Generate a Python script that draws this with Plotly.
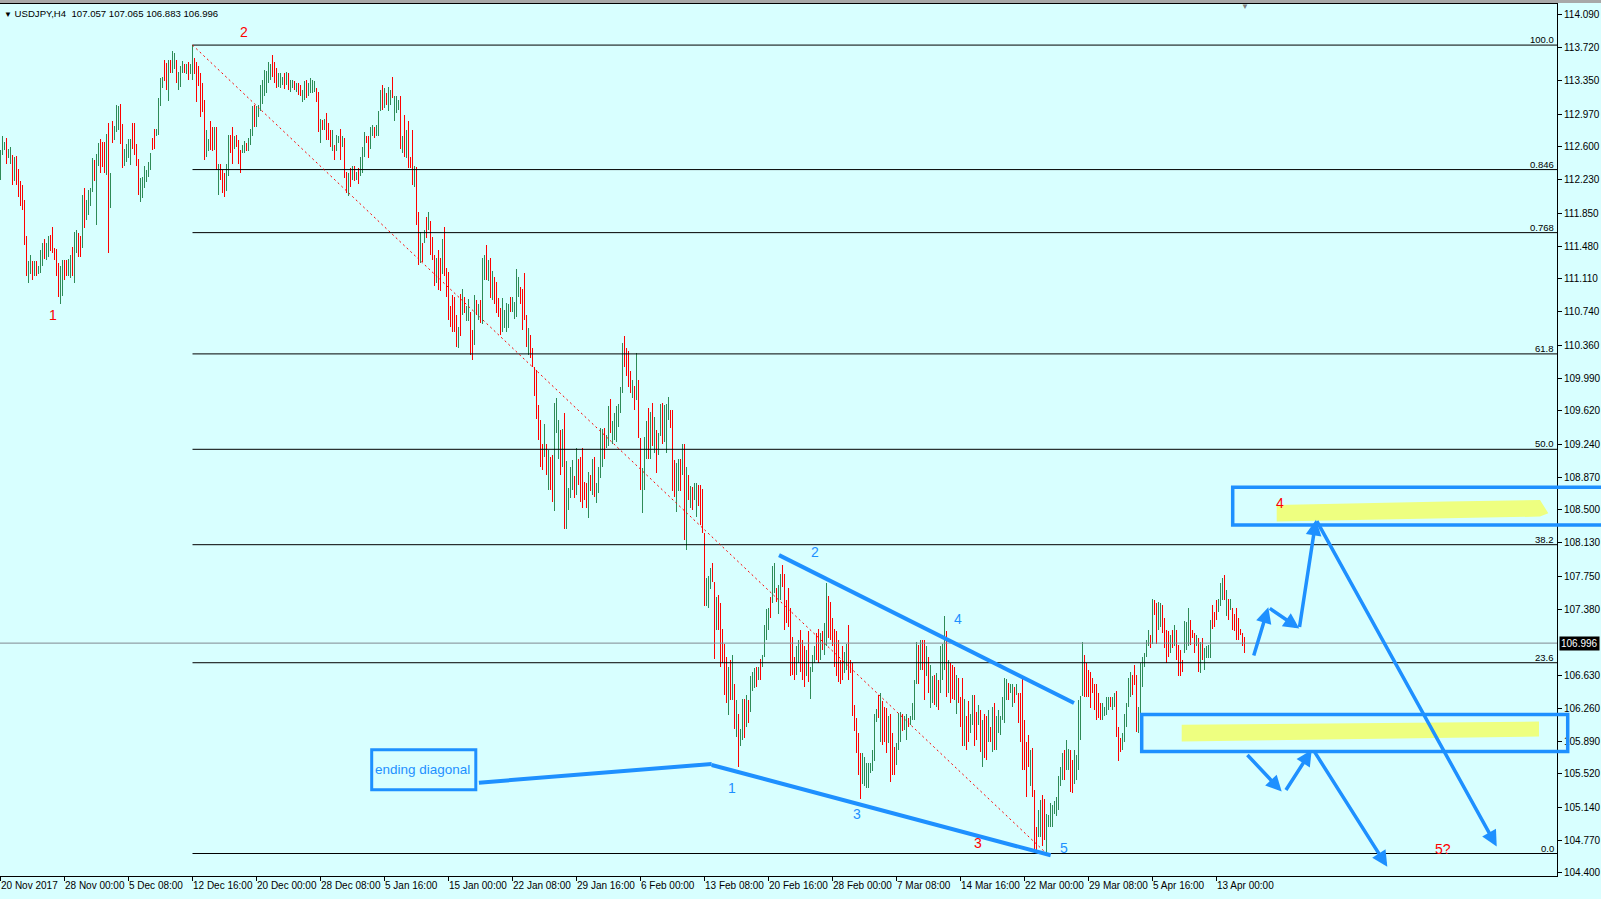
import plotly.graph_objects as go

# ---------------- data ----------------
bar_highs = [
    112.57, 112.72, 112.66, 112.70, 112.58, 112.60, 112.51, 112.49, 112.50, 112.35,
    112.21, 112.17, 112.00, 111.59, 111.31, 111.38, 111.31, 111.31, 111.31, 111.25,
    111.44, 111.51, 111.56, 111.51, 111.59, 111.61, 111.70, 111.46, 111.45, 111.29,
    111.26, 111.32, 111.32, 111.32, 111.33, 111.38, 111.47, 111.64, 111.66, 111.63,
    111.59, 112.06, 112.14, 112.00, 112.11, 112.14, 112.47, 112.45, 112.52, 112.64,
    112.69, 112.66, 112.66, 112.75, 112.87, 112.30, 112.89, 112.84, 113.07, 113.06,
    113.09, 112.86, 112.58, 112.63, 112.69, 112.69, 112.87, 112.87, 112.63, 112.46,
    112.25, 112.26, 112.38, 112.34, 112.43, 112.53, 112.70, 112.80, 112.80, 113.15,
    113.38, 113.39, 113.58, 113.55, 113.58, 113.58, 113.68, 113.66, 113.58, 113.45,
    113.51, 113.57, 113.54, 113.54, 113.56, 113.54, 113.75, 113.60, 113.56, 113.51,
    113.44, 113.32, 113.13, 112.79, 112.69, 112.89, 112.83, 112.83, 112.83, 112.41,
    112.41, 112.34, 112.30, 112.41, 112.74, 112.74, 112.82, 112.72, 112.74, 112.68,
    112.57, 112.62, 112.67, 112.64, 112.70, 112.80, 113.06, 113.07, 113.06, 113.07,
    113.30, 113.36, 113.47, 113.46, 113.56, 113.54, 113.64, 113.56, 113.49, 113.44,
    113.43, 113.39, 113.44, 113.45, 113.44, 113.36, 113.36, 113.34, 113.32, 113.32,
    113.30, 113.24, 113.34, 113.36, 113.32, 113.38, 113.36, 113.34, 113.26, 113.22,
    112.92, 112.90, 112.92, 112.98, 112.87, 112.79, 112.79, 112.62, 112.74, 112.72,
    112.80, 112.72, 112.70, 112.32, 112.30, 112.36, 112.38, 112.39, 112.32, 112.36,
    112.49, 112.60, 112.77, 112.72, 112.72, 112.83, 112.85, 112.83, 112.85, 113.00,
    113.24, 113.30, 113.27, 113.21, 113.28, 113.24, 113.39, 113.17, 113.17, 113.13,
    113.17, 112.72, 112.96, 112.79, 112.89, 112.49, 112.79, 112.38, 112.37, 111.87,
    111.64, 111.51, 111.66, 111.81, 111.87, 111.76, 111.58, 111.38, 111.35, 111.44,
    111.34, 111.56, 111.70, 111.23, 111.19, 110.80, 110.93, 110.91, 110.70, 110.57,
    110.94, 110.99, 110.91, 110.80, 110.88, 110.74, 110.53, 110.93, 110.87, 110.83,
    110.87, 111.35, 111.38, 111.49, 111.32, 111.35, 111.20, 111.13, 111.08, 110.89,
    110.78, 110.89, 110.76, 110.84, 110.83, 110.91, 110.91, 110.85, 111.22, 111.13,
    111.02, 111.00, 111.18, 110.70, 110.55, 110.48, 110.33, 110.12, 110.08, 109.68,
    109.52, 109.25, 109.47, 109.24, 109.18, 109.10, 109.12, 109.71, 109.76, 109.52,
    109.40, 109.41, 109.59, 109.05, 108.75, 108.99, 109.06, 108.88, 109.20, 109.08,
    109.10, 109.20, 108.82, 108.80, 108.93, 108.90, 109.08, 109.10, 108.80, 108.99,
    109.42, 109.41, 109.42, 109.35, 109.67, 109.75, 109.50, 109.59, 109.67, 109.70,
    109.89, 110.38, 110.46, 110.33, 110.29, 110.07, 109.97, 109.90, 110.27, 109.97,
    109.31, 108.97, 109.32, 109.50, 109.65, 109.61, 109.71, 109.55, 109.40, 109.37,
    109.70, 109.71, 109.69, 109.70, 109.78, 109.63, 109.63, 109.06, 109.03, 109.08,
    109.08, 109.25, 109.25, 108.99, 108.90, 108.77, 108.76, 108.80, 108.80, 108.78,
    108.78, 108.74, 108.24, 107.73, 107.75, 107.84, 107.90, 107.69, 107.52, 107.54,
    107.45, 107.16, 106.99, 106.84, 106.73, 106.81, 106.86, 106.54, 106.35, 106.20,
    106.03, 106.37, 106.37, 106.41, 106.35, 106.62, 106.67, 106.71, 106.73, 106.73,
    106.82, 106.86, 107.20, 107.38, 107.39, 107.52, 107.87, 107.90, 107.62, 107.65,
    107.78, 107.88, 107.78, 107.48, 107.62, 107.39, 107.07, 106.84, 106.96, 107.03,
    107.14, 107.03, 106.96, 106.92, 107.13, 106.73, 106.86, 106.96, 107.11, 107.15,
    107.11, 107.13, 107.22, 107.67, 107.53, 107.46, 107.28, 107.16, 107.13, 107.03,
    106.81, 106.96, 106.90, 106.99, 107.20, 106.81, 106.77, 106.30, 106.15, 105.98,
    105.75, 105.75, 105.71, 105.64, 105.64, 105.64, 105.79, 106.19, 106.25, 106.41,
    106.43, 106.34, 106.28, 106.26, 106.17, 106.19, 105.98, 105.82, 105.87, 106.21,
    106.22, 106.20, 106.17, 106.20, 106.15, 106.17, 106.32, 106.58, 107.01, 106.97,
    107.03, 107.03, 107.03, 106.96, 106.84, 106.75, 106.62, 106.64, 106.66, 106.58,
    106.96, 106.99, 107.30, 107.13, 106.81, 106.77, 106.75, 106.73, 106.64, 106.60,
    106.39, 106.60, 106.37, 106.17, 106.34, 106.19, 106.41, 106.41, 106.22, 106.30,
    106.24, 106.13, 106.20, 106.17, 106.24, 106.05, 106.28, 106.32, 106.17, 106.24,
    106.17, 106.39, 106.60, 106.59, 106.55, 106.54, 106.54, 106.50, 106.54, 106.43,
    106.43, 106.62, 106.13, 105.88, 105.96, 105.79, 105.81, 105.34, 104.92, 105.11,
    105.23, 105.28, 105.24, 105.07, 105.06, 105.19, 105.17, 105.21, 105.26, 105.49,
    105.60, 105.76, 105.79, 105.90, 105.80, 105.79, 105.68, 105.79, 105.73, 106.35,
    106.40, 107.01, 106.86, 106.77, 106.69, 106.67, 106.60, 106.54, 106.54, 106.43,
    106.32, 106.32, 106.28, 106.39, 106.39, 106.39, 106.39, 106.43, 106.45, 106.05,
    105.92, 105.98, 106.20, 106.32, 106.60, 106.67, 106.64, 106.75, 106.64, 106.28,
    106.77, 106.84, 106.88, 107.03, 107.14, 107.09, 107.49, 107.48, 107.45, 107.46,
    107.45, 107.43, 107.28, 107.14, 107.13, 107.09, 107.14, 107.20, 107.14, 106.98,
    106.92, 106.81, 107.25, 107.24, 107.39, 107.26, 107.14, 107.11, 107.09, 107.05,
    107.01, 107.05, 106.94, 106.96, 106.98, 107.26, 107.43, 107.35, 107.48, 107.49,
    107.67, 107.73, 107.77, 107.60, 107.50, 107.50, 107.39, 107.33, 107.39, 107.28,
    107.16, 107.11, 107.065,
]

bar_lows = [
    112.23, 112.51, 112.57, 112.41, 112.47, 112.41, 112.17, 112.21, 112.17, 112.04,
    111.93, 111.89, 111.49, 111.14, 111.06, 111.17, 111.10, 111.14, 111.14, 111.17,
    111.18, 111.25, 111.33, 111.32, 111.36, 111.42, 111.40, 111.32, 111.14, 110.90,
    110.83, 110.92, 111.10, 111.14, 111.14, 111.12, 111.14, 111.06, 111.40, 111.36,
    111.36, 111.46, 111.68, 111.77, 111.83, 111.93, 112.09, 112.22, 111.72, 112.38,
    112.31, 112.37, 112.31, 112.28, 111.40, 111.91, 112.64, 112.68, 112.77, 112.79,
    112.63, 112.36, 112.38, 112.43, 112.48, 112.40, 112.58, 112.51, 112.38, 112.06,
    111.98, 112.02, 112.14, 112.20, 112.26, 112.34, 112.57, 112.58, 112.72, 112.74,
    113.06, 113.26, 113.34, 113.24, 113.12, 113.44, 113.44, 113.48, 113.32, 113.24,
    113.28, 113.44, 113.44, 113.42, 113.36, 113.42, 113.36, 113.42, 113.11, 113.29,
    112.94, 112.99, 112.45, 112.49, 112.55, 112.57, 112.55, 112.57, 112.34, 112.06,
    112.23, 112.08, 112.03, 112.10, 112.27, 112.53, 112.41, 112.58, 112.60, 112.41,
    112.30, 112.53, 112.53, 112.55, 112.55, 112.62, 112.72, 112.83, 112.83, 112.94,
    113.00, 113.09, 113.17, 113.21, 113.32, 113.36, 113.39, 113.32, 113.26, 113.28,
    113.26, 113.30, 113.25, 113.30, 113.24, 113.22, 113.26, 113.24, 113.22, 113.19,
    113.17, 113.11, 113.13, 113.15, 113.17, 113.21, 113.21, 113.22, 113.11, 112.77,
    112.64, 112.79, 112.79, 112.68, 112.68, 112.60, 112.55, 112.45, 112.55, 112.64,
    112.45, 112.60, 112.25, 112.08, 112.05, 112.15, 112.23, 112.21, 112.23, 112.18,
    112.27, 112.30, 112.49, 112.64, 112.47, 112.58, 112.72, 112.70, 112.72, 112.72,
    113.00, 113.02, 113.04, 113.07, 113.00, 113.07, 113.15, 112.89, 112.98, 113.02,
    112.58, 112.53, 112.49, 112.47, 112.36, 112.36, 112.17, 112.15, 111.72, 111.27,
    111.29, 111.30, 111.51, 111.57, 111.66, 111.38, 111.32, 111.03, 111.06, 110.98,
    110.97, 111.17, 111.14, 110.91, 110.65, 110.57, 110.51, 110.51, 110.34, 110.33,
    110.47, 110.70, 110.72, 110.63, 110.63, 110.25, 110.19, 110.36, 110.70, 110.64,
    110.61, 110.60, 111.10, 111.10, 111.09, 110.89, 110.87, 110.83, 110.72, 110.68,
    110.48, 110.51, 110.55, 110.51, 110.55, 110.74, 110.74, 110.66, 110.68, 110.91,
    110.83, 110.53, 110.64, 110.34, 110.25, 110.22, 110.12, 109.79, 109.53, 109.29,
    108.99, 108.95, 109.10, 108.90, 108.73, 108.73, 108.59, 108.49, 109.37, 109.07,
    108.90, 108.99, 108.28, 108.28, 108.50, 108.63, 108.73, 108.63, 108.67, 108.78,
    108.59, 108.52, 108.61, 108.52, 108.41, 108.71, 108.67, 108.65, 108.58, 108.69,
    108.86, 108.99, 109.08, 109.20, 109.22, 109.37, 109.25, 109.29, 109.27, 109.44,
    109.59, 109.82, 110.12, 110.01, 109.89, 109.82, 109.76, 109.63, 109.74, 109.31,
    108.73, 108.46, 108.73, 109.08, 109.08, 109.08, 109.22, 109.14, 108.92, 109.12,
    109.33, 109.25, 109.27, 109.14, 109.52, 109.42, 108.71, 108.65, 108.48, 108.71,
    108.71, 108.89, 108.16, 108.05, 108.61, 108.52, 108.50, 108.61, 108.42, 108.54,
    108.33, 108.24, 107.41, 107.41, 107.39, 107.61, 107.69, 106.82, 107.14, 107.14,
    106.73, 106.77, 106.41, 106.32, 106.18, 106.35, 106.35, 106.03, 105.94, 105.60,
    105.83, 105.90, 105.92, 106.05, 106.09, 106.22, 106.45, 106.49, 106.50, 106.58,
    106.58, 106.73, 106.84, 107.03, 107.14, 107.28, 107.45, 107.56, 107.46, 107.33,
    107.48, 107.63, 107.14, 107.22, 107.18, 106.62, 106.64, 106.58, 106.64, 106.77,
    106.67, 106.58, 106.50, 106.62, 106.56, 106.37, 106.67, 106.77, 106.81, 106.77,
    106.81, 106.92, 106.86, 106.96, 107.05, 107.03, 106.96, 106.73, 106.62, 106.56,
    106.54, 106.58, 106.66, 106.69, 106.58, 106.66, 106.17, 106.00, 105.75, 105.51,
    105.24, 105.41, 105.38, 105.36, 105.36, 105.53, 105.55, 105.66, 106.11, 106.15,
    105.88, 105.85, 105.88, 105.75, 105.87, 105.43, 105.51, 105.51, 105.62, 105.79,
    105.88, 106.00, 106.02, 105.90, 106.05, 106.07, 106.13, 106.13, 106.54, 106.54,
    106.69, 106.69, 106.35, 106.62, 106.43, 106.26, 106.32, 106.30, 106.28, 106.24,
    106.43, 106.58, 106.69, 106.39, 106.43, 106.32, 106.37, 106.35, 106.20, 106.32,
    106.05, 105.83, 105.83, 105.79, 105.88, 105.98, 106.07, 105.83, 105.90, 106.07,
    105.77, 105.60, 105.70, 105.68, 105.88, 105.88, 105.77, 105.79, 105.79, 105.98,
    105.96, 106.13, 106.09, 106.35, 106.35, 106.43, 106.28, 106.32, 106.41, 106.09,
    105.88, 105.56, 105.56, 105.26, 105.60, 105.38, 105.26, 104.66, 104.64, 104.81,
    104.81, 104.70, 104.77, 104.62, 104.92, 104.92, 104.92, 105.07, 105.04, 105.11,
    105.38, 105.45, 105.45, 105.56, 105.56, 105.32, 105.30, 105.41, 105.45, 105.56,
    105.90, 106.40, 106.39, 106.39, 106.39, 106.26, 106.43, 106.24, 106.13, 106.15,
    106.13, 106.13, 106.17, 106.18, 106.24, 106.28, 106.24, 106.28, 105.94, 105.66,
    105.77, 105.79, 105.88, 106.05, 106.28, 106.39, 106.41, 106.52, 105.99, 105.98,
    106.00, 106.50, 106.73, 106.84, 106.96, 106.94, 106.99, 107.31, 106.99, 107.14,
    107.18, 107.11, 106.94, 106.77, 106.84, 106.88, 106.94, 106.96, 106.81, 106.62,
    106.62, 106.67, 106.88, 106.92, 106.96, 106.98, 107.05, 106.88, 106.96, 106.67,
    106.66, 106.81, 106.69, 106.83, 106.83, 106.83, 107.16, 107.18, 107.26, 107.35,
    107.41, 107.48, 107.48, 107.30, 107.26, 107.37, 107.14, 107.13, 107.03, 107.03,
    107.09, 106.96, 106.883,
]

# bar direction: G = bullish (green), R = bearish (red)
bar_dirs = (
    "GGGRGGRGRR" "RRRRGGRGRG" "GGRGGRRRRR" "GGRRGGRGGR" "RGRGGGGRGG"
    "RRRGRGRGGG" "RRGGGGRRRR" "GGGGGGRRGG" "GGRRGRGGRG" "GGRGRGGRRR"
    "RRRGGRRGRG" "RRRGGRRGRR" "RGGRGGGRGG" "GGGGGGRRRG" "GGRGRGGRGR"
    "RGGRGGGGRR" "GRGRRRGRGG" "RGRRGRGRGR" "GGGRRGGRGG" "GRGRGGRGGG"
    "RGRGRRRGRR" "GRGRGRRRGR" "RGRRRRRRRG" "RGRGGRRGRG" "RGGRGRGRRR"
    "RGGGGRGGGG" "RRRRGRRRRR" "RRGRGRRGGG" "RGRGGGGRGR" "RRRRGRGRGG"
    "GGRGGRGGGG" "GGRRRRGRGR" "RGGGRGRGRG" "GRGGGRRRGG" "RGRGRGRGGR"
    "RRRGGGRRGR" "RRRRGRGRGR" "GGRGRGGGRG" "RGGGGRGGRG" "GRRRRRRRGG"
    "RRRGRGGGRR" "GRGGRRRRRR" "RRGGRRRRRR" "RGGGGGGGGR" "GRRRGRRRGG"
    "GRGGRGGGGR" "GRRGRGGRGR" "GGGRGRRRGR" "RRGRRGGRRG" "RGRRGRGRGG"
    "GGGGRGGRGR" "RRRRRGRRRG" "GRRGGGGGGG" "GGRGGRRGGG" "GGRRRRRRRR"
    "RGGGGRGGRR" "RGGGGGRRRG" "GGGGGRGRRG" "GRRRRGRGRR" "RRGGGRRRGR"
    "GRGGGGRRRG" "GGRGRGRRRR" "RRR"
)

symbol = "USDJPY,H4"
last_open, last_high, last_low, last_close = 107.057, 107.065, 106.883, 106.996

date_labels = ["20 Nov 2017", "28 Nov 00:00", "5 Dec 08:00", "12 Dec 16:00", "20 Dec 00:00",
               "28 Dec 08:00", "5 Jan 16:00", "15 Jan 00:00", "22 Jan 08:00", "29 Jan 16:00",
               "6 Feb 00:00", "13 Feb 08:00", "20 Feb 16:00", "28 Feb 00:00", "7 Mar 08:00",
               "14 Mar 16:00", "22 Mar 00:00", "29 Mar 08:00", "5 Apr 16:00", "13 Apr 00:00"]
date_label_bars = [0, 32, 64, 96, 128, 160, 192, 224, 256, 288,
                   320, 352, 384, 416, 448, 480, 512, 544, 576, 608]

price_ticks = [114.090, 113.720, 113.350, 112.970, 112.600, 112.230, 111.850, 111.480,
               111.110, 110.740, 110.360, 109.990, 109.620, 109.240, 108.870, 108.500,
               108.130, 107.750, 107.380, 106.630, 106.260, 105.890, 105.520, 105.140,
               104.770, 104.400]

fib_ratios = [1.0, 0.846, 0.768, 0.618, 0.5, 0.382, 0.236, 0.0]
fib_texts = ["100.0", "0.846", "0.768", "61.8", "50.0", "38.2", "23.6", "0.0"]
fib_high, fib_low = 113.75, 104.62
fib_high_bar, fib_low_bar = 96, 523

# hand-drawn annotations (bar index, price)
wave_labels = [("2", 121.8, 113.90, "red"), ("1", 26.0, 110.70, "red"),
               ("2", 407.1, 108.03, "blue"), ("4", 478.6, 107.27, "blue"),
               ("1", 365.6, 105.36, "blue"), ("3", 428.0, 105.07, "blue"),
               ("5", 531.7, 104.68, "blue"), ("3", 488.8, 104.74, "red"),
               ("4", 639.8, 108.58, "red"), ("5?", 721.4, 104.67, "red")]
wedge_lines = [((389.25, 107.99), (536.75, 106.32)),
               ((355.6, 105.62), (525.1, 104.60)),
               ((239.2, 105.42), (355.6, 105.63))]
arrow_segments = [((626.4, 106.84), (633.9, 107.40)), ((633.9, 107.40), (649.4, 107.16)),
                  ((649.4, 107.16), (657.75, 108.39)), ((657.75, 108.39), (748.1, 104.70)),
                  ((622.75, 105.75), (640.6, 105.32)), ((642.25, 105.32), (655.6, 105.79)),
                  ((656.4, 105.79), (693.4, 104.47))]
upper_zone = (616.1, 805.0, 108.33, 108.755)
lower_zone = (570.6, 783.6, 105.773, 106.19)
upper_marker = [(638.1, 108.557), (723.1, 108.595), (769.75, 108.613), (773.9, 108.463),
                (769.75, 108.425), (723.1, 108.406), (638.1, 108.369)]
lower_marker = [(590.6, 106.073), (769.25, 106.110), (769.25, 105.941), (590.6, 105.884)]
diag_box = (185.6, 237.65, 105.341, 105.792)

# ---------------- figure ----------------
BG = "#D8FFFF"
BLUE = "#1E90FF"
GREEN = "#2E8B57"
FONT = "Liberation Sans, Arial, sans-serif"
W, H = 1601, 899
ML, MR, MT, MB = 0, 44, 4, 23
X0, X1 = -0.25, 778.25
Y0, Y1 = 104.366, 114.214
PLOT_H = H - MT - MB


def xpaper(i):
    return (i - X0) / (X1 - X0)


n = len(bar_highs)
xs = list(range(n))
opens = [bar_lows[k] if bar_dirs[k] == "G" else bar_highs[k] for k in range(n)]
closes = [bar_highs[k] if bar_dirs[k] == "G" else bar_lows[k] for k in range(n)]

fig = go.Figure(go.Ohlc(
    x=xs, open=opens, high=bar_highs, low=bar_lows, close=closes,
    increasing=dict(line=dict(color=GREEN, width=1)),
    decreasing=dict(line=dict(color="#FF0000", width=1)),
    tickwidth=0, hoverinfo="skip", showlegend=False,
))

shapes = []
annotations = []

# gray band above chart frame
shapes.append(dict(type="rect", xref="paper", yref="paper", x0=-0.01, x1=1.05,
                   y0=1 + 1.0 / PLOT_H, y1=1 + 5.0 / PLOT_H,
                   fillcolor="#A8A8A8", line=dict(width=0), layer="above"))

# current price line
shapes.append(dict(type="line", xref="x", yref="y", x0=X0, x1=X1, y0=last_close, y1=last_close,
                   line=dict(color="#808890", width=1)))

# fibonacci levels
for r, t in zip(fib_ratios, fib_texts):
    lvl = fib_low + r * (fib_high - fib_low)
    shapes.append(dict(type="line", xref="x", yref="y", x0=fib_high_bar, x1=X1, y0=lvl, y1=lvl,
                       line=dict(color="black", width=1)))
    annotations.append(dict(x=X1, y=lvl, xref="x", yref="y", text=t, showarrow=False,
                            xanchor="right", yanchor="bottom", xshift=-1, yshift=-2,
                            font=dict(family=FONT, size=9.5, color="black")))

# fib base (dotted red)
shapes.append(dict(type="line", xref="x", yref="y", x0=fib_high_bar, y0=fib_high,
                   x1=fib_low_bar, y1=fib_low, line=dict(color="red", width=1, dash="2px,3px")))

# yellow markers
def poly(points):
    return "M " + " L ".join(f"{a},{b}" for a, b in points) + " Z"

for pts in (upper_marker, lower_marker):
    shapes.append(dict(type="path", xref="x", yref="y", path=poly(pts),
                       fillcolor="#EEFF80", line=dict(width=0)))

# blue zones
for (a, b, lo, hi) in (upper_zone, lower_zone):
    shapes.append(dict(type="rect", xref="paper", yref="y", x0=xpaper(a), x1=xpaper(b),
                       y0=lo, y1=hi, line=dict(color=BLUE, width=3.5)))

# ending diagonal box + wedge lines
shapes.append(dict(type="rect", xref="x", yref="y", x0=diag_box[0], x1=diag_box[1],
                   y0=diag_box[2], y1=diag_box[3], line=dict(color=BLUE, width=3)))
for (p, q) in wedge_lines:
    shapes.append(dict(type="line", xref="x", yref="y", x0=p[0], y0=p[1], x1=q[0], y1=q[1],
                       line=dict(color=BLUE, width=4)))

annotations.append(dict(x=diag_box[0], y=(diag_box[2] + diag_box[3]) / 2, xref="x", yref="y",
                        text="ending diagonal", showarrow=False, xanchor="left", xshift=1,
                        font=dict(family=FONT, size=13.5, color=BLUE)))

# arrows
for (tail, head) in arrow_segments:
    annotations.append(dict(x=head[0], y=head[1], ax=tail[0], ay=tail[1],
                            xref="x", yref="y", axref="x", ayref="y", text="",
                            showarrow=True, arrowhead=2, arrowsize=0.9, arrowwidth=3.5,
                            arrowcolor=BLUE, standoff=0, startstandoff=0))

# wave labels
for t, i, p, c in wave_labels:
    annotations.append(dict(x=i, y=p, xref="x", yref="y", text=t, showarrow=False,
                            font=dict(family=FONT, size=14,
                                      color=BLUE if c == "blue" else "#FF0000")))

# date labels
for lab, b in zip(date_labels, date_label_bars):
    annotations.append(dict(x=b, y=0, xref="x", yref="paper", text=lab, showarrow=False,
                            xanchor="left", yanchor="top", xshift=-2, yshift=-2,
                            font=dict(family=FONT, size=10, color="black")))

# header
annotations.append(dict(x=0, y=1, xref="paper", yref="paper",
                        text=f"<span style='font-size:8px'>▼</span> {symbol}  {last_open:.3f} "
                             f"{last_high:.3f} {last_low:.3f} {last_close:.3f}",
                        showarrow=False, xanchor="left", yanchor="top", xshift=2, yshift=-2,
                        font=dict(family=FONT, size=9.6, color="black")))

# price label on axis
annotations.append(dict(x=1, y=last_close, xref="paper", yref="y", text=f"{last_close:.3f}",
                        showarrow=False, xanchor="left", xshift=2, bgcolor="black",
                        borderpad=1, font=dict(family=FONT, size=10, color="white")))

# chart-shift marker
annotations.append(dict(x=n - 1, y=1, xref="x", yref="paper", text="▼", showarrow=False,
                        yanchor="middle", yshift=-1, font=dict(size=8, color="#808080")))

fig.update_layout(
    width=W, height=H,
    margin=dict(l=ML, r=MR, t=MT, b=MB, pad=0),
    paper_bgcolor=BG, plot_bgcolor=BG,
    showlegend=False, hovermode=False,
    shapes=shapes, annotations=annotations,
    xaxis=dict(range=[X0, X1], showgrid=False, zeroline=False, showline=True,
               linecolor="black", linewidth=1, mirror=True,
               tickmode="array", tickvals=date_label_bars, ticks="outside", ticklen=4,
               tickcolor="black", showticklabels=False, rangeslider=dict(visible=False),
               fixedrange=True),
    yaxis=dict(range=[Y0, Y1], side="right", showgrid=False, zeroline=False, showline=True,
               linecolor="black", linewidth=1, tickmode="array", tickvals=price_ticks,
               ticktext=[f"{v:.3f}" for v in price_ticks], ticks="outside", ticklen=4,
               tickcolor="black", tickfont=dict(family=FONT, size=10, color="black"),
               fixedrange=True),
)

post_js = (
    "document.body.style.margin='0px';document.body.style.padding='0px';"
    "document.body.style.background='" + BG + "';"
    "var st=document.createElement('style');"
    "st.innerHTML='.ohlclayer path{shape-rendering:crispEdges !important;}';"
    "document.head.appendChild(st);"
)

fig.write_html("out.html", config={"displayModeBar": False}, post_script=post_js)
